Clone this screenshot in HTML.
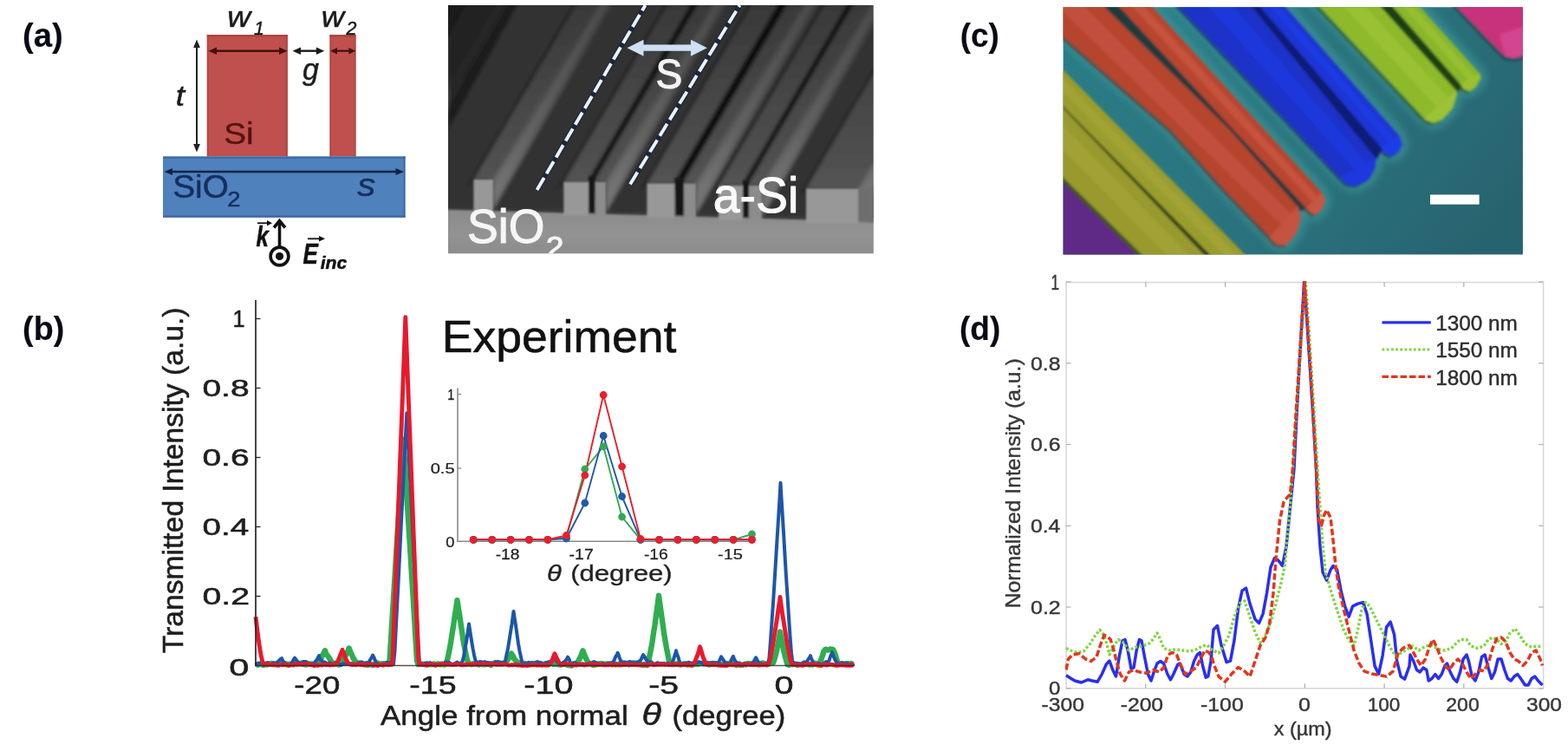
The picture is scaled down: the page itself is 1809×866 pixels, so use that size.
<!DOCTYPE html>
<html lang="en">
<head>
<meta charset="utf-8">
<title>Figure</title>
<style>
html,body{margin:0;padding:0;background:#fff;}
body{width:1809px;height:866px;overflow:hidden;}
svg{display:block;font-family:"Liberation Sans",sans-serif;}
</style>
</head>
<body>
<svg width="1809" height="866" viewBox="0 0 1809 866">
<rect x="0" y="0" width="1809" height="866" fill="#ffffff"/>
<g id="labels">
<text transform="translate(26.09,54.30) scale(1.0058,1.0000)" font-size="38.00" font-weight="bold" fill="#0a0a14" stroke="#0a0a14" stroke-width="0.15" stroke-linejoin="round">(a)</text>
<text transform="translate(26.11,392.00) scale(0.9924,1.0000)" font-size="38.00" font-weight="bold" fill="#0a0a14" stroke="#0a0a14" stroke-width="0.15" stroke-linejoin="round">(b)</text>
<text transform="translate(1107.66,54.30) scale(0.9708,1.0000)" font-size="38.00" font-weight="bold" fill="#0a0a14" stroke="#0a0a14" stroke-width="0.15" stroke-linejoin="round">(c)</text>
<text transform="translate(1106.95,392.00) scale(0.9746,1.0000)" font-size="38.00" font-weight="bold" fill="#0a0a14" stroke="#0a0a14" stroke-width="0.15" stroke-linejoin="round">(d)</text>
</g>
<g id="schematic">
<text transform="translate(262.14,30.50) scale(1.1279,1.0000)" font-size="33.02" font-style="italic" fill="#1c1c1c" stroke="#1c1c1c" stroke-width="0.5" stroke-linejoin="round">w</text>
<text transform="translate(370.67,30.50) scale(1.1070,1.0000)" font-size="33.02" font-style="italic" fill="#1c1c1c" stroke="#1c1c1c" stroke-width="0.5" stroke-linejoin="round">w</text>
<rect x="238.8" y="40.0" width="93.0" height="140.5" fill="#c0504d"/>
<rect x="238.8" y="40.0" width="93.0" height="3.0" fill="#a8433f" opacity="0.7"/>
<rect x="238.8" y="40.0" width="2.0" height="140.5" fill="#b04743" opacity="0.8"/>
<rect x="329.8" y="40.0" width="2.0" height="140.5" fill="#a8433f" opacity="0.8"/>
<rect x="380.5" y="40.0" width="30.0" height="140.5" fill="#c0504d"/>
<rect x="380.5" y="40.0" width="30.0" height="3.0" fill="#a8433f" opacity="0.7"/>
<rect x="380.5" y="40.0" width="1.8" height="140.5" fill="#a8433f" opacity="0.8"/>
<rect x="408.7" y="40.0" width="1.8" height="140.5" fill="#a8433f" opacity="0.8"/>
<rect x="188.0" y="180.5" width="279.5" height="70.3" fill="#4f81bd"/>
<rect x="188.0" y="180.5" width="279.5" height="2.5" fill="#3d6aa3" opacity="0.9"/>
<rect x="188.0" y="248.3" width="279.5" height="2.5" fill="#41689c" opacity="0.9"/>
<rect x="465.3" y="180.5" width="2.2" height="70.3" fill="#41689c" opacity="0.9"/>
<text transform="translate(292.97,39.80) scale(0.9488,1.0000)" font-size="22.50" font-style="italic" fill="#1c1c1c" stroke="#1c1c1c" stroke-width="0.5" stroke-linejoin="round">1</text>
<text transform="translate(399.41,39.80) scale(0.9541,1.0000)" font-size="22.50" font-style="italic" fill="#1c1c1c" stroke="#1c1c1c" stroke-width="0.5" stroke-linejoin="round">2</text>
<line x1="246.2" y1="58.7" x2="325.8" y2="58.7" stroke="#43100e" stroke-width="2.4"/><polygon points="240.5,58.7 250.0,54.5 250.0,62.9" fill="#43100e"/><polygon points="331.5,58.7 322.0,54.5 322.0,62.9" fill="#43100e"/>
<line x1="343.2" y1="58.7" x2="368.6" y2="58.7" stroke="#1a1a1a" stroke-width="2.4"/><polygon points="337.5,58.7 347.0,54.5 347.0,62.9" fill="#1a1a1a"/><polygon points="374.3,58.7 364.8,54.5 364.8,62.9" fill="#1a1a1a"/>
<line x1="385.8" y1="58.7" x2="405.5" y2="58.7" stroke="#43100e" stroke-width="2.2"/><polygon points="381.0,58.7 389.0,54.9 389.0,62.5" fill="#43100e"/><polygon points="410.3,58.7 402.3,54.9 402.3,62.5" fill="#43100e"/>
<line x1="227.0" y1="51.2" x2="227.0" y2="169.8" stroke="#222" stroke-width="2.0"/><polygon points="227.0,45.5 223.1,55.0 230.9,55.0" fill="#222"/><polygon points="227.0,175.5 223.1,166.0 230.9,166.0" fill="#222"/>
<line x1="195.2" y1="198.0" x2="460.3" y2="198.0" stroke="#0f2348" stroke-width="2.3"/><polygon points="189.5,198.0 199.0,194.0 199.0,202.0" fill="#0f2348"/><polygon points="466.0,198.0 456.5,194.0 456.5,202.0" fill="#0f2348"/>
<text transform="translate(349.00,92.30) scale(0.9725,1.0000)" font-size="34.91" font-style="italic" fill="#1c1c1c" stroke="#1c1c1c" stroke-width="0.5" stroke-linejoin="round">g</text>
<text transform="translate(202.83,122.00) scale(1.0893,1.0000)" font-size="34.00" font-style="italic" fill="#1c1c1c" stroke="#1c1c1c" stroke-width="0.5" stroke-linejoin="round">t</text>
<text transform="translate(258.26,166.00) scale(1.0839,1.0000)" font-size="35.71" fill="#551512" stroke="#551512" stroke-width="0.5" stroke-linejoin="round">Si</text>
<text transform="translate(199.26,228.00) scale(1.0632,1.0000)" font-size="36.43" fill="#14305f" stroke="#14305f" stroke-width="0.5" stroke-linejoin="round">SiO</text>
<text transform="translate(262.13,237.50) scale(1.1945,1.0000)" font-size="23.00" fill="#14305f" stroke="#14305f" stroke-width="0.5" stroke-linejoin="round">2</text>
<text transform="translate(412.29,226.00) scale(1.1158,1.0000)" font-size="37.74" font-style="italic" fill="#14305f" stroke="#14305f" stroke-width="0.5" stroke-linejoin="round">s</text>
<text transform="translate(295.61,284.00) scale(0.7837,1.0000)" font-size="33.00" font-weight="bold" font-style="italic" fill="#111" stroke="#111" stroke-width="0.5" stroke-linejoin="round">k</text>
<line x1="297.0" y1="257.3" x2="311.0" y2="257.3" stroke="#111" stroke-width="1.8"/>
<polygon points="314.0,257.3 308.0,254.0 308.0,260.6" fill="#111"/>
<line x1="322.5" y1="256.0" x2="322.5" y2="285.0" stroke="#111" stroke-width="3.6"/>
<polyline points="316,262.5 322.5,254.5 329,262.5" fill="none" stroke="#111" stroke-width="3.6" stroke-linejoin="miter"/>
<circle cx="322.5" cy="295.5" r="10.4" fill="#fff" stroke="#111" stroke-width="3.6"/>
<circle cx="322.5" cy="295.5" r="4.6" fill="#111"/>
<text transform="translate(349.48,304.00) scale(0.7949,1.0000)" font-size="32.86" font-weight="bold" font-style="italic" fill="#111" stroke="#111" stroke-width="0.5" stroke-linejoin="round">E</text>
<line x1="355.0" y1="275.3" x2="370.0" y2="275.3" stroke="#111" stroke-width="1.8"/>
<polygon points="375.0,275.3 368.0,272.0 368.0,278.6" fill="#111"/>
<text transform="translate(369.68,310.00) scale(1.0215,1.0000)" font-size="20.75" font-weight="bold" font-style="italic" fill="#111" stroke="#111" stroke-width="0.5" stroke-linejoin="round">inc</text>
</g>
<defs>
<clipPath id="semclip"><rect x="517" y="6" width="490.6" height="286.2"/></clipPath>
<filter id="semblur" x="-5%" y="-5%" width="110%" height="110%"><feGaussianBlur stdDeviation="2.0"/></filter>
<filter id="semblur2" x="-5%" y="-5%" width="110%" height="110%"><feGaussianBlur stdDeviation="1.3"/></filter>
<linearGradient id="sembase" gradientUnits="userSpaceOnUse" x1="517" y1="6" x2="687" y2="296"><stop offset="0" stop-color="#1c1c1c"/><stop offset="0.35" stop-color="#303030"/><stop offset="1" stop-color="#3e3e3e"/></linearGradient>
<linearGradient id="semwall" gradientUnits="userSpaceOnUse" x1="0" y1="250" x2="0" y2="0"><stop offset="0" stop-color="#787878"/><stop offset="0.4" stop-color="#585858"/><stop offset="0.75" stop-color="#444444"/><stop offset="1" stop-color="#3a3a3a"/></linearGradient>
<linearGradient id="semtop" gradientUnits="userSpaceOnUse" x1="0" y1="250" x2="0" y2="0"><stop offset="0" stop-color="#585858"/><stop offset="0.5" stop-color="#484848"/><stop offset="1" stop-color="#383838"/></linearGradient>
<linearGradient id="semsub" gradientUnits="userSpaceOnUse" x1="0" y1="240" x2="0" y2="292"><stop offset="0" stop-color="#8a8a8a"/><stop offset="0.6" stop-color="#939393"/><stop offset="1" stop-color="#8c8c8c"/></linearGradient>
</defs>
<g id="sem" clip-path="url(#semclip)">
<rect x="517.0" y="6.0" width="490.6" height="286.2" fill="url(#sembase)"/>
<g filter="url(#semblur)">
<polygon points="451.0,238.0 590.2,0.0 700.2,0.0 561.0,238.0" fill="#333333"/>
<polygon points="569.0,241.0 710.0,0.0 820.0,0.0 679.0,241.0" fill="#333333"/>
<polygon points="699.0,244.4 842.0,0.0 952.0,0.0 809.0,244.4" fill="#333333"/>
<polygon points="803.0,247.0 947.5,0.0 1057.5,0.0 913.0,247.0" fill="#333333"/>
<polygon points="879.0,250.0 1025.2,0.0 1135.2,0.0 989.0,250.0" fill="#333333"/>
<polygon points="990.0,254.0 1138.6,0.0 1248.6,0.0 1100.0,254.0" fill="#333333"/>
<polygon points="451.0,204.0 451.0,238.0 590.2,0.0 570.3,0.0" fill="url(#semwall)"/>
<polygon points="454.0,208.0 454.0,224.0 585.0,0.0 575.7,0.0" fill="#8a8a8a" opacity="0.22"/>
<polygon points="421.0,204.0 451.0,204.0 570.3,0.0 540.3,0.0" fill="url(#semtop)"/>
<polygon points="412.0,214.0 421.0,204.0 540.3,0.0 537.2,0.0" fill="#151515" opacity="0.8"/>
<polygon points="569.0,207.0 569.0,241.0 710.0,0.0 690.1,0.0" fill="url(#semwall)"/>
<polygon points="572.0,211.0 572.0,227.0 704.8,0.0 695.4,0.0" fill="#8a8a8a" opacity="0.22"/>
<polygon points="546.4,207.0 569.0,207.0 690.1,0.0 667.5,0.0" fill="url(#semtop)"/>
<polygon points="537.4,217.0 546.4,207.0 667.5,0.0 664.3,0.0" fill="#151515" opacity="0.8"/>
<polygon points="699.0,209.8 699.0,244.4 842.0,0.0 821.7,0.0" fill="url(#semwall)"/>
<polygon points="702.0,213.8 702.0,230.4 836.8,0.0 827.1,0.0" fill="#8a8a8a" opacity="0.22"/>
<polygon points="650.3,209.8 699.0,209.8 821.7,0.0 773.0,0.0" fill="url(#semtop)"/>
<polygon points="679.0,206.8 686.7,206.8 807.7,0.0 800.0,0.0" fill="#0c0c0c"/>
<polygon points="641.3,219.8 650.3,209.8 773.0,0.0 769.9,0.0" fill="#151515" opacity="0.8"/>
<polygon points="803.0,211.5 803.0,247.0 947.5,0.0 926.7,0.0" fill="url(#semwall)"/>
<polygon points="806.0,215.5 806.0,233.0 942.3,0.0 932.1,0.0" fill="#8a8a8a" opacity="0.22"/>
<polygon points="746.4,211.5 803.0,211.5 926.7,0.0 870.1,0.0" fill="url(#semtop)"/>
<polygon points="778.5,208.5 789.0,208.5 911.0,0.0 900.5,0.0" fill="#0c0c0c"/>
<polygon points="737.4,221.5 746.4,211.5 870.1,0.0 867.0,0.0" fill="#151515" opacity="0.8"/>
<polygon points="879.0,214.0 879.0,250.0 1025.2,0.0 1004.2,0.0" fill="url(#semwall)"/>
<polygon points="882.0,218.0 882.0,236.0 1020.1,0.0 1009.5,0.0" fill="#8a8a8a" opacity="0.22"/>
<polygon points="829.0,214.0 879.0,214.0 1004.2,0.0 954.2,0.0" fill="url(#semtop)"/>
<polygon points="857.0,211.0 864.0,211.0 987.4,0.0 980.4,0.0" fill="#0c0c0c"/>
<polygon points="820.0,224.0 829.0,214.0 954.2,0.0 951.0,0.0" fill="#151515" opacity="0.8"/>
<polygon points="990.0,217.5 990.0,254.0 1138.6,0.0 1117.2,0.0" fill="url(#semwall)"/>
<polygon points="993.0,221.5 993.0,240.0 1133.4,0.0 1122.6,0.0" fill="#8a8a8a" opacity="0.22"/>
<polygon points="930.0,217.5 990.0,217.5 1117.2,0.0 1057.2,0.0" fill="url(#semtop)"/>
<polygon points="921.0,227.5 930.0,217.5 1057.2,0.0 1054.1,0.0" fill="#151515" opacity="0.8"/>
<polygon points="517.0,0.0 600.0,0.0 517.0,150.0" fill="#181818" opacity="0.75"/>
</g>
<g filter="url(#semblur2)">
<polygon points="512.0,241.5 1012.6,255.8 1012.6,297.2 512.0,297.2" fill="url(#semsub)"/>
<polygon points="546.4,207.0 569.0,207.0 569.0,245.0 546.4,245.0" fill="#989898"/>
<polygon points="650.3,209.8 679.0,209.8 679.0,248.4 650.3,248.4" fill="#989898"/>
<polygon points="679.0,203.8 686.7,203.8 685.7,245.4 680.0,245.4" fill="#141414"/>
<polygon points="686.7,209.8 699.0,209.8 699.0,248.4 686.7,248.4" fill="#8c8c8c"/>
<polygon points="746.4,211.5 778.5,211.5 778.5,251.0 746.4,251.0" fill="#989898"/>
<polygon points="778.5,205.5 789.0,205.5 788.0,248.0 779.5,248.0" fill="#141414"/>
<polygon points="789.0,211.5 803.0,211.5 803.0,251.0 789.0,251.0" fill="#8c8c8c"/>
<polygon points="829.0,214.0 857.0,214.0 857.0,254.0 829.0,254.0" fill="#989898"/>
<polygon points="857.0,208.0 864.0,208.0 863.0,251.0 858.0,251.0" fill="#141414"/>
<polygon points="864.0,214.0 879.0,214.0 879.0,254.0 864.0,254.0" fill="#8c8c8c"/>
<polygon points="930.0,217.5 990.0,217.5 990.0,258.0 930.0,258.0" fill="#989898"/>
<polygon points="990.0,217.5 1010.0,214.0 1010.0,257.0 990.0,256.0" fill="#6e6e6e"/>
</g>
<line x1="619.5" y1="219.0" x2="744.5" y2="6.0" stroke="#14233c" stroke-width="6.4" stroke-linecap="butt" opacity="0.7"/>
<line x1="619.5" y1="219.0" x2="744.5" y2="6.0" stroke="#eaf2fb" stroke-width="3.9" stroke-dasharray="16.3 5.5"/>
<line x1="727.0" y1="212.5" x2="853.5" y2="6.0" stroke="#14233c" stroke-width="6.4" stroke-linecap="butt" opacity="0.7"/>
<line x1="727.0" y1="212.5" x2="853.5" y2="6.0" stroke="#eaf2fb" stroke-width="3.9" stroke-dasharray="16.3 5.5"/>
<line x1="736.0" y1="55.2" x2="804.0" y2="55.2" stroke="#cfe0f4" stroke-width="7.2"/>
<polygon points="723.5,55.2 742.5,45.7 742.5,64.7" fill="#cfe0f4"/>
<polygon points="815.8,55.2 797.0,45.7 797.0,64.7" fill="#cfe0f4"/>
<text transform="translate(756.43,102.30) scale(0.9630,1.0000)" font-size="47.86" fill="#f4f4f4" stroke="#f4f4f4" stroke-width="1.1" stroke-linejoin="round">S</text>
<text transform="translate(539.09,280.00) scale(0.9630,1.0000)" font-size="55.71" fill="#f6f6f6" stroke="#f6f6f6" stroke-width="1.1" stroke-linejoin="round">SiO</text>
<text transform="translate(629.63,297.00) scale(1.0379,1.0000)" font-size="36.00" fill="#f6f6f6" stroke="#f6f6f6" stroke-width="1.1" stroke-linejoin="round">2</text>
<text transform="translate(822.78,245.30) scale(0.9693,1.0000)" font-size="57.14" fill="#fafafa" stroke="#fafafa" stroke-width="1.1" stroke-linejoin="round">a-Si</text>
</g>
<defs>
<clipPath id="cclip"><rect x="1226.6" y="8.3" width="530.3000000000002" height="285.09999999999997"/></clipPath>
<filter id="cblur" x="-5%" y="-5%" width="110%" height="110%"><feGaussianBlur stdDeviation="1.8"/></filter>
<filter id="cblur2" x="-10%" y="-10%" width="120%" height="120%"><feGaussianBlur stdDeviation="5"/></filter>
<linearGradient id="cbg" gradientUnits="userSpaceOnUse" x1="1300" y1="0" x2="1700" y2="300"><stop offset="0" stop-color="#2a7c86"/><stop offset="0.6" stop-color="#2a717c"/><stop offset="1" stop-color="#27636f"/></linearGradient>
</defs>
<g id="colorsem" clip-path="url(#cclip)">
<rect x="1224.6" y="6.3" width="534.3" height="289.1" fill="url(#cbg)"/>
<g filter="url(#cblur2)" opacity="0.55">
<polygon points="1266.0,0.0 1419.0,150.0 1497.0,238.0 1501.0,251.0 1496.0,268.0 1484.0,283.0 1473.0,282.0 1465.0,273.0 1413.0,219.0 1351.0,150.0 1178.0,0.0" fill="#44a0a0" stroke="#44a0a0" stroke-width="14" stroke-linejoin="round"/>
<polygon points="1322.5,0.0 1525.0,222.0 1529.0,232.0 1524.0,243.0 1516.0,248.0 1507.0,240.0 1284.0,0.0" fill="#44a0a0" stroke="#44a0a0" stroke-width="14" stroke-linejoin="round"/>
<polygon points="1438.0,0.0 1587.0,182.0 1587.0,193.0 1580.0,206.0 1566.0,214.0 1554.0,212.0 1546.0,204.0 1353.0,0.0" fill="#44a0a0" stroke="#44a0a0" stroke-width="14" stroke-linejoin="round"/>
<polygon points="1476.0,0.0 1614.0,156.0 1618.0,166.0 1614.0,175.0 1606.0,180.0 1599.0,177.0 1593.0,170.0 1447.0,0.0" fill="#44a0a0" stroke="#44a0a0" stroke-width="14" stroke-linejoin="round"/>
<polygon points="1586.0,0.0 1679.6,104.0 1681.0,108.0 1676.0,125.0 1664.0,138.0 1654.0,142.0 1646.0,139.0 1643.2,136.8 1514.8,0.0" fill="#44a0a0" stroke="#44a0a0" stroke-width="14" stroke-linejoin="round"/>
<polygon points="1631.0,0.0 1707.3,84.9 1708.5,90.0 1703.0,100.0 1696.0,105.5 1689.0,103.0 1684.8,97.0 1600.0,0.0" fill="#44a0a0" stroke="#44a0a0" stroke-width="14" stroke-linejoin="round"/>
</g>
<g filter="url(#cblur)">
<polygon points="1220.0,192.0 1330.0,300.0 1220.0,300.0" fill="#3a4a1a"/>
<polygon points="1220.0,204.0 1318.0,300.0 1220.0,300.0" fill="#5e2a86"/>
<polygon points="1668.0,0.0 1760.0,0.0 1760.0,68.0 1746.0,71.0 1735.0,69.5 1728.0,63.0" fill="#23505a"/>
<polygon points="1673.0,0.0 1760.0,0.0 1760.0,64.0 1746.0,67.0 1737.0,65.0 1731.0,60.0" fill="#c8327c"/>
<polygon points="1730.0,40.0 1760.0,30.0 1760.0,64.0 1746.0,67.0 1737.0,65.0" fill="#d84c98" opacity="0.7"/>
<polygon points="1217.5,120.5 1392.5,302.5 1321.5,302.5 1217.5,201.0" fill="#4a5a18" opacity="0.6"/>
<polygon points="1217.5,76.5 1440.3,302.5 1399.5,302.5 1217.5,118.5" fill="#4a5a18" opacity="0.6"/>
<polygon points="1263.5,2.5 1416.5,152.5 1494.5,240.5 1498.5,253.5 1493.5,270.5 1481.5,285.5 1470.5,284.5 1462.5,275.5 1410.5,221.5 1348.5,152.5 1175.5,2.5" fill="#6a2a22" opacity="0.6"/>
<polygon points="1320.0,2.5 1522.5,224.5 1526.5,234.5 1521.5,245.5 1513.5,250.5 1504.5,242.5 1281.5,2.5" fill="#6a2a22" opacity="0.6"/>
<polygon points="1435.5,2.5 1584.5,184.5 1584.5,195.5 1577.5,208.5 1563.5,216.5 1551.5,214.5 1543.5,206.5 1350.5,2.5" fill="#101a70" opacity="0.6"/>
<polygon points="1473.5,2.5 1611.5,158.5 1615.5,168.5 1611.5,177.5 1603.5,182.5 1596.5,179.5 1590.5,172.5 1444.5,2.5" fill="#101a70" opacity="0.6"/>
<polygon points="1583.5,2.5 1677.1,106.5 1678.5,110.5 1673.5,127.5 1661.5,140.5 1651.5,144.5 1643.5,141.5 1640.7,139.3 1512.3,2.5" fill="#2c4a14" opacity="0.6"/>
<polygon points="1628.5,2.5 1704.8,87.4 1706.0,92.5 1700.5,102.5 1693.5,108.0 1686.5,105.5 1682.3,99.5 1597.5,2.5" fill="#2c4a14" opacity="0.6"/>
<polygon points="1220.0,110.0 1220.0,120.0 1397.0,302.0 1407.0,302.0" fill="#2a3a14"/>
<polygon points="1262.0,0.0 1288.0,0.0 1428.0,150.0 1510.0,240.0 1497.0,244.0 1415.0,150.0" fill="#1e3a3c"/>
<polygon points="1434.0,0.0 1450.0,0.0 1595.0,172.0 1586.0,187.0" fill="#0e1a74"/>
<polygon points="1582.0,0.0 1604.0,0.0 1687.0,99.0 1680.0,108.0" fill="#1c4014"/>
<polygon points="1220.0,118.0 1395.0,300.0 1324.0,300.0 1220.0,198.5" fill="#989a2e"/>
<polygon points="1220.0,138.1 1377.2,300.0 1352.4,300.0 1220.0,166.3" fill="#acaa3c" opacity="0.45"/>
<polygon points="1220.0,74.0 1442.8,300.0 1402.0,300.0 1220.0,116.0" fill="#9a9c2e"/>
<polygon points="1220.0,84.5 1432.6,300.0 1418.3,300.0 1220.0,99.2" fill="#b0ae40" opacity="0.45"/>
<polygon points="1266.0,0.0 1419.0,150.0 1497.0,238.0 1501.0,251.0 1496.0,268.0 1484.0,283.0 1473.0,282.0 1465.0,273.0 1413.0,219.0 1351.0,150.0 1178.0,0.0" fill="#b6442f"/>
<polygon points="1244.0,0.0 1489.0,246.8 1477.8,259.0 1213.2,0.0" fill="#d06050" opacity="0.45"/>
<polygon points="1497.6,237.3 1501.0,251.0 1496.0,268.0 1484.0,283.0 1473.0,282.0 1464.4,273.7 1468.2,269.5 1493.8,241.5" fill="#d06050" opacity="0.55"/>
<polygon points="1322.5,0.0 1525.0,222.0 1529.0,232.0 1524.0,243.0 1516.0,248.0 1507.0,240.0 1284.0,0.0" fill="#b8452f"/>
<polygon points="1312.9,0.0 1520.5,226.5 1514.2,232.8 1299.4,0.0" fill="#d46452" opacity="0.45"/>
<polygon points="1525.4,221.6 1529.0,232.0 1524.0,243.0 1516.0,248.0 1506.6,240.4 1508.8,238.2 1523.2,223.8" fill="#d46452" opacity="0.55"/>
<polygon points="1438.0,0.0 1587.0,182.0 1587.0,193.0 1580.0,206.0 1566.0,214.0 1554.0,212.0 1546.0,204.0 1353.0,0.0" fill="#1a30c8"/>
<polygon points="1416.8,0.0 1576.8,187.5 1562.4,195.2 1387.0,0.0" fill="#2040f0" opacity="0.45"/>
<polygon points="1587.8,181.6 1587.0,193.0 1580.0,206.0 1566.0,214.0 1554.0,212.0 1545.2,204.4 1550.1,201.8 1582.9,184.2" fill="#2040f0" opacity="0.55"/>
<polygon points="1476.0,0.0 1614.0,156.0 1618.0,166.0 1614.0,175.0 1606.0,180.0 1599.0,177.0 1593.0,170.0 1447.0,0.0" fill="#1c34d4"/>
<polygon points="1468.8,0.0 1608.8,159.5 1601.4,164.4 1458.6,0.0" fill="#2244f4" opacity="0.45"/>
<polygon points="1614.4,155.7 1618.0,166.0 1614.0,175.0 1606.0,180.0 1599.0,177.0 1592.6,170.3 1595.1,168.6 1611.9,157.4" fill="#2244f4" opacity="0.55"/>
<polygon points="1586.0,0.0 1679.6,104.0 1681.0,108.0 1676.0,125.0 1664.0,138.0 1654.0,142.0 1646.0,139.0 1643.2,136.8 1514.8,0.0" fill="#8db92c"/>
<polygon points="1568.2,0.0 1670.5,112.2 1657.8,123.7 1543.3,0.0" fill="#a8cc3c" opacity="0.45"/>
<polygon points="1680.3,103.3 1681.0,108.0 1676.0,125.0 1664.0,138.0 1654.0,142.0 1646.0,139.0 1642.5,137.5 1646.8,133.5 1676.0,107.3" fill="#a8cc3c" opacity="0.55"/>
<polygon points="1631.0,0.0 1707.3,84.9 1708.5,90.0 1703.0,100.0 1696.0,105.5 1689.0,103.0 1684.8,97.0 1600.0,0.0" fill="#8ab62a"/>
<polygon points="1623.2,0.0 1701.7,87.9 1693.8,92.2 1612.4,0.0" fill="#a6ca3a" opacity="0.45"/>
<polygon points="1707.8,84.7 1708.5,90.0 1703.0,100.0 1696.0,105.5 1689.0,103.0 1684.3,97.2 1687.0,95.8 1705.0,86.1" fill="#a6ca3a" opacity="0.55"/>
</g>
<rect x="1650.0" y="224.5" width="56.6" height="11.2" fill="#ffffff"/>
</g>
<g id="chartb">
<text transform="translate(268.60,377.10) scale(0.9316,1.0000)" font-size="27.14" fill="#1e1e1e" stroke="#1e1e1e" stroke-width="0.55" stroke-linejoin="round">1</text>
<text transform="translate(233.44,457.10) scale(1.4343,1.0000)" font-size="27.14" fill="#1e1e1e" stroke="#1e1e1e" stroke-width="0.55" stroke-linejoin="round">0.8</text>
<text transform="translate(233.44,537.10) scale(1.4343,1.0000)" font-size="27.14" fill="#1e1e1e" stroke="#1e1e1e" stroke-width="0.55" stroke-linejoin="round">0.6</text>
<text transform="translate(233.45,617.10) scale(1.4234,1.0000)" font-size="27.14" fill="#1e1e1e" stroke="#1e1e1e" stroke-width="0.55" stroke-linejoin="round">0.4</text>
<text transform="translate(233.43,697.10) scale(1.4453,1.0000)" font-size="27.14" fill="#1e1e1e" stroke="#1e1e1e" stroke-width="0.55" stroke-linejoin="round">0.2</text>
<text transform="translate(264.33,779.10) scale(1.5351,1.0000)" font-size="27.14" fill="#1e1e1e" stroke="#1e1e1e" stroke-width="0.55" stroke-linejoin="round">0</text>
<text transform="translate(339.35,800.00) scale(1.2821,1.0000)" font-size="28.57" fill="#1e1e1e" stroke="#1e1e1e" stroke-width="0.55" stroke-linejoin="round">-20</text>
<text transform="translate(472.31,800.00) scale(1.3125,1.0000)" font-size="28.57" fill="#1e1e1e" stroke="#1e1e1e" stroke-width="0.55" stroke-linejoin="round">-15</text>
<text transform="translate(604.22,800.00) scale(1.3846,1.0000)" font-size="28.57" fill="#1e1e1e" stroke="#1e1e1e" stroke-width="0.55" stroke-linejoin="round">-10</text>
<text transform="translate(748.24,800.00) scale(1.3696,1.0000)" font-size="28.57" fill="#1e1e1e" stroke="#1e1e1e" stroke-width="0.55" stroke-linejoin="round">-5</text>
<text transform="translate(893.42,800.00) scale(1.3854,1.0000)" font-size="28.57" fill="#1e1e1e" stroke="#1e1e1e" stroke-width="0.55" stroke-linejoin="round">0</text>
<text transform="translate(439.00,836.00) scale(1.0882,1.0000)" font-size="32.14" fill="#1e1e1e" stroke="#1e1e1e" stroke-width="0.55" stroke-linejoin="round">Angle from normal</text>
<text transform="translate(740.44,836.00) scale(1.1782,1.0000)" font-size="35.00" font-style="italic" fill="#1e1e1e" stroke="#1e1e1e" stroke-width="0.55" stroke-linejoin="round">θ</text>
<text transform="translate(775.42,836.00) scale(1.0768,1.0000)" font-size="32.14" fill="#1e1e1e" stroke="#1e1e1e" stroke-width="0.55" stroke-linejoin="round">(degree)</text>
<text transform="translate(211.00,753.17) rotate(-90) scale(1.0849,1.0800)" font-size="31.00" fill="#1e1e1e" stroke="#1e1e1e" stroke-width="0.55" stroke-linejoin="round">Transmitted Intensity (a.u.)</text>
<text transform="translate(509.72,406.00) scale(1.0407,1.0000)" font-size="51.43" fill="#111" stroke="#111" stroke-width="0.55" stroke-linejoin="round">Experiment</text>
<line x1="528.0" y1="447.5" x2="528.0" y2="625.0" stroke="#8a8a8a" stroke-width="1.6"/>
<line x1="527.2" y1="624.3" x2="870.0" y2="624.3" stroke="#8a8a8a" stroke-width="1.6"/>
<line x1="528.0" y1="454.5" x2="532.0" y2="454.5" stroke="#8a8a8a" stroke-width="1.3"/>
<line x1="528.0" y1="540.0" x2="532.0" y2="540.0" stroke="#8a8a8a" stroke-width="1.3"/>
<text transform="translate(516.21,461.00) scale(0.8972,1.0000)" font-size="16.14" fill="#222" stroke="#222" stroke-width="0.25" stroke-linejoin="round">1</text>
<text transform="translate(496.70,546.20) scale(1.2437,1.0000)" font-size="16.14" fill="#222" stroke="#222" stroke-width="0.25" stroke-linejoin="round">0.5</text>
<text transform="translate(514.27,631.00) scale(1.1357,1.0000)" font-size="16.14" fill="#222" stroke="#222" stroke-width="0.25" stroke-linejoin="round">0</text>
<text transform="translate(571.63,645.00) scale(1.1281,1.0000)" font-size="17.14" fill="#222" stroke="#222" stroke-width="0.25" stroke-linejoin="round">-18</text>
<text transform="translate(656.62,645.00) scale(1.1364,1.0000)" font-size="17.14" fill="#222" stroke="#222" stroke-width="0.25" stroke-linejoin="round">-17</text>
<text transform="translate(742.93,645.00) scale(1.1238,1.0000)" font-size="17.14" fill="#222" stroke="#222" stroke-width="0.25" stroke-linejoin="round">-16</text>
<text transform="translate(828.10,645.00) scale(1.1667,1.0000)" font-size="17.14" fill="#222" stroke="#222" stroke-width="0.25" stroke-linejoin="round">-15</text>
<text transform="translate(630.95,670.00) scale(1.1895,1.0000)" font-size="26.00" font-style="italic" fill="#222" stroke="#222" stroke-width="0.3" stroke-linejoin="round">θ</text>
<text transform="translate(658.13,670.00) scale(1.2244,1.0000)" font-size="25.43" fill="#222" stroke="#222" stroke-width="0.3" stroke-linejoin="round">(degree)</text>
<polyline points="546.2,622.3 567.7,622.3 589.1,622.3 610.5,622.3 631.9,622.3 653.4,620.0 674.8,541.0 696.2,515.0 717.6,596.0 739.0,622.3 760.5,622.3 781.9,622.3 803.3,622.3 824.7,622.3 846.1,622.3 867.5,616.0" fill="none" stroke="#35a853" stroke-width="1.9" stroke-linejoin="round"/>
<polyline points="546.2,622.3 567.7,622.3 589.1,622.3 610.5,622.3 631.9,622.3 653.4,621.0 674.8,580.0 696.2,502.5 717.6,572.5 739.0,622.3 760.5,622.3 781.9,622.3 803.3,622.3 824.7,622.3 846.1,622.3 867.5,622.3" fill="none" stroke="#1f5aa8" stroke-width="1.9" stroke-linejoin="round"/>
<polyline points="546.2,622.3 567.7,622.3 589.1,622.3 610.5,622.3 631.9,622.3 653.4,617.5 674.8,548.0 696.2,455.5 717.6,538.0 739.0,621.5 760.5,622.3 781.9,622.3 803.3,622.3 824.7,622.3 846.1,622.3 867.5,622.3" fill="none" stroke="#e8202c" stroke-width="1.9" stroke-linejoin="round"/>
<g fill="#35a853"><circle cx="546.2" cy="622.3" r="4.4"/><circle cx="567.7" cy="622.3" r="4.4"/><circle cx="589.1" cy="622.3" r="4.4"/><circle cx="610.5" cy="622.3" r="4.4"/><circle cx="631.9" cy="622.3" r="4.4"/><circle cx="653.4" cy="620.0" r="4.4"/><circle cx="674.8" cy="541.0" r="4.4"/><circle cx="696.2" cy="515.0" r="4.4"/><circle cx="717.6" cy="596.0" r="4.4"/><circle cx="739.0" cy="622.3" r="4.4"/><circle cx="760.5" cy="622.3" r="4.4"/><circle cx="781.9" cy="622.3" r="4.4"/><circle cx="803.3" cy="622.3" r="4.4"/><circle cx="824.7" cy="622.3" r="4.4"/><circle cx="846.1" cy="622.3" r="4.4"/><circle cx="867.5" cy="616.0" r="4.4"/></g>
<g fill="#1f5aa8"><circle cx="546.2" cy="622.3" r="4.4"/><circle cx="567.7" cy="622.3" r="4.4"/><circle cx="589.1" cy="622.3" r="4.4"/><circle cx="610.5" cy="622.3" r="4.4"/><circle cx="631.9" cy="622.3" r="4.4"/><circle cx="653.4" cy="621.0" r="4.4"/><circle cx="674.8" cy="580.0" r="4.4"/><circle cx="696.2" cy="502.5" r="4.4"/><circle cx="717.6" cy="572.5" r="4.4"/><circle cx="739.0" cy="622.3" r="4.4"/><circle cx="760.5" cy="622.3" r="4.4"/><circle cx="781.9" cy="622.3" r="4.4"/><circle cx="803.3" cy="622.3" r="4.4"/><circle cx="824.7" cy="622.3" r="4.4"/><circle cx="846.1" cy="622.3" r="4.4"/><circle cx="867.5" cy="622.3" r="4.4"/></g>
<g fill="#e8202c"><circle cx="546.2" cy="622.3" r="4.4"/><circle cx="567.7" cy="622.3" r="4.4"/><circle cx="589.1" cy="622.3" r="4.4"/><circle cx="610.5" cy="622.3" r="4.4"/><circle cx="631.9" cy="622.3" r="4.4"/><circle cx="653.4" cy="617.5" r="4.4"/><circle cx="674.8" cy="548.0" r="4.4"/><circle cx="696.2" cy="455.5" r="4.4"/><circle cx="717.6" cy="538.0" r="4.4"/><circle cx="739.0" cy="621.5" r="4.4"/><circle cx="760.5" cy="622.3" r="4.4"/><circle cx="781.9" cy="622.3" r="4.4"/><circle cx="803.3" cy="622.3" r="4.4"/><circle cx="824.7" cy="622.3" r="4.4"/><circle cx="846.1" cy="622.3" r="4.4"/><circle cx="867.5" cy="622.3" r="4.4"/></g>
<polyline points="295.0,767.6 296.5,766.8 298.0,766.6 299.5,766.0 301.0,765.7 302.5,766.5 304.0,767.1 305.5,765.9 307.0,766.3 308.5,766.6 310.0,765.3 311.5,765.5 313.0,764.9 314.5,765.3 316.0,765.2 317.5,766.1 319.0,765.7 320.5,765.0 322.0,765.2 323.5,764.9 325.0,764.9 326.5,766.1 328.0,765.4 329.5,765.4 331.0,765.9 332.5,766.7 334.0,765.6 335.5,765.7 337.0,765.3 338.5,764.7 340.0,764.7 341.5,764.3 343.0,765.1 344.5,764.7 346.0,765.2 347.5,764.6 349.0,764.3 350.5,765.6 352.0,766.4 353.5,766.6 355.0,765.4 356.5,765.6 358.0,765.4 359.5,765.9 361.0,765.8 362.5,766.0 364.0,766.2 365.5,765.8 367.0,764.7 368.5,762.0 370.0,759.8 371.5,756.8 373.0,754.0 374.5,750.8 375.0,750.3 376.0,753.4 377.5,755.6 379.0,757.6 380.5,759.8 382.0,762.5 383.5,764.3 385.0,765.6 386.5,765.0 388.0,765.1 389.5,765.8 391.0,766.6 392.5,765.6 394.0,763.0 395.5,761.9 397.0,758.6 398.5,756.1 400.0,753.7 401.5,750.7 402.5,747.6 403.0,748.1 404.5,752.5 406.0,755.2 407.5,759.0 409.0,761.0 410.5,763.7 412.0,764.8 413.5,764.5 415.0,765.0 416.5,764.3 418.0,765.2 419.5,766.2 421.0,765.8 422.5,766.7 424.0,766.9 425.5,766.6 427.0,766.0 428.5,766.5 430.0,767.1 431.5,765.8 433.0,766.1 434.5,765.1 436.0,764.6 437.5,765.3 439.0,765.5 440.5,765.5 442.0,765.3 443.5,765.3 445.0,765.3 446.5,765.3 448.0,764.6 449.5,761.8 451.0,737.8 452.5,713.1 454.0,689.5 455.5,665.4 457.0,639.9 458.5,615.8 460.0,591.5 461.5,568.2 463.0,543.7 464.5,518.9 465.3,506.7 466.0,517.5 467.5,541.4 469.0,566.7 470.5,590.5 472.0,614.8 473.5,638.7 475.0,663.5 476.5,687.4 478.0,711.4 479.5,737.0 481.0,762.0 482.5,766.1 484.0,765.0 485.5,765.8 487.0,765.8 488.5,765.6 490.0,766.0 491.5,766.1 493.0,766.3 494.5,766.3 496.0,765.9 497.5,766.2 499.0,766.2 500.5,765.5 502.0,766.5 503.5,766.0 505.0,765.5 506.5,765.9 508.0,766.4 509.5,765.5 511.0,766.1 512.5,766.5 514.0,766.3 515.5,762.7 517.0,757.0 518.5,749.5 520.0,741.2 521.5,731.4 523.0,722.2 524.5,711.7 526.0,702.4 527.5,692.2 529.0,702.2 530.5,711.6 532.0,721.8 533.5,731.9 535.0,741.4 536.5,749.2 538.0,757.2 539.5,762.6 541.0,765.0 542.5,765.9 544.0,766.2 545.5,765.4 547.0,765.3 548.5,764.9 550.0,765.5 551.5,766.3 553.0,766.5 554.5,765.6 556.0,766.1 557.5,766.2 559.0,766.2 560.5,766.1 562.0,766.1 563.5,765.2 565.0,766.0 566.5,766.9 568.0,765.5 569.5,764.9 571.0,764.3 572.5,765.0 574.0,764.4 575.5,764.1 577.0,765.3 578.5,765.0 580.0,764.6 581.5,764.7 583.0,764.1 584.5,762.7 586.0,760.6 587.5,758.4 589.0,756.1 590.0,753.5 590.5,754.7 592.0,756.6 593.5,760.3 595.0,761.6 596.5,763.6 598.0,764.6 599.5,764.3 601.0,764.1 602.5,764.6 604.0,766.0 605.5,765.4 607.0,766.1 608.5,766.3 610.0,765.8 611.5,765.7 613.0,765.9 614.5,765.0 616.0,765.0 617.5,765.6 619.0,766.1 620.5,765.3 622.0,765.5 623.5,765.0 625.0,765.6 626.5,766.2 628.0,765.9 629.5,765.2 631.0,766.1 632.5,765.4 634.0,764.7 635.5,764.5 637.0,764.4 638.5,765.8 640.0,765.5 641.5,764.9 643.0,766.1 644.5,766.4 646.0,766.5 647.5,766.2 649.0,766.1 650.5,766.0 652.0,765.4 653.5,766.4 655.0,767.0 656.5,767.2 658.0,767.3 659.5,767.5 661.0,765.9 662.5,765.1 664.0,766.1 665.5,764.8 667.0,762.7 668.5,760.0 670.0,756.9 671.5,753.0 672.5,750.4 673.0,751.9 674.5,755.8 676.0,759.1 677.5,762.4 679.0,764.4 680.5,765.6 682.0,765.9 683.5,766.6 685.0,766.9 686.5,766.6 688.0,766.1 689.5,765.4 691.0,765.7 692.5,765.1 694.0,765.1 695.5,765.5 697.0,765.8 698.5,765.8 700.0,765.4 701.5,765.6 703.0,765.3 704.5,765.5 706.0,766.1 707.5,765.9 709.0,765.4 710.5,766.4 712.0,766.2 713.5,766.2 715.0,765.3 716.5,764.6 718.0,765.3 719.5,764.7 721.0,764.5 722.5,765.5 724.0,765.6 725.5,766.4 727.0,765.5 728.5,765.3 730.0,764.7 731.5,764.5 733.0,764.7 734.5,764.6 736.0,764.9 737.5,766.0 739.0,765.7 740.5,766.7 742.0,767.0 743.5,765.9 745.0,766.7 746.5,767.1 748.0,764.1 749.5,756.0 751.0,748.6 752.5,740.5 754.0,729.9 755.5,720.7 757.0,709.3 758.5,698.4 760.0,686.8 761.5,697.4 763.0,708.5 764.5,718.7 766.0,729.9 767.5,738.7 769.0,747.6 770.5,755.2 772.0,763.0 773.5,765.5 775.0,764.7 776.5,766.0 778.0,766.2 779.5,765.9 781.0,765.2 782.5,765.9 784.0,766.4 785.5,766.6 787.0,766.0 788.5,765.4 790.0,765.7 791.5,766.0 793.0,766.1 794.5,766.2 796.0,766.2 797.5,766.8 799.0,766.3 800.5,765.2 802.0,765.6 803.5,765.1 805.0,766.0 806.5,765.5 808.0,765.1 809.5,765.0 811.0,765.3 812.5,765.5 814.0,765.3 815.5,764.7 817.0,765.8 818.5,766.5 820.0,765.7 821.5,764.9 823.0,765.2 824.5,765.5 826.0,765.2 827.5,766.0 829.0,766.3 830.5,766.6 832.0,766.1 833.5,766.3 835.0,766.6 836.5,765.9 838.0,764.9 839.5,765.6 841.0,765.3 842.5,765.6 844.0,765.0 845.5,765.1 847.0,765.8 848.5,766.3 850.0,767.0 851.5,766.5 853.0,766.4 854.5,766.8 856.0,766.6 857.5,766.6 859.0,765.7 860.5,766.4 862.0,765.2 863.5,765.4 865.0,765.3 866.5,765.5 868.0,765.0 869.5,764.6 871.0,765.0 872.5,765.3 874.0,765.0 875.5,764.6 877.0,765.2 878.5,765.0 880.0,764.4 881.5,765.0 883.0,765.8 884.5,766.3 886.0,765.6 887.5,765.3 889.0,764.6 890.5,764.4 892.0,764.3 893.5,760.2 895.0,754.5 896.5,748.2 898.0,740.2 899.5,731.8 900.0,728.6 901.0,734.7 902.5,741.6 904.0,749.3 905.5,756.0 907.0,761.2 908.5,766.3 910.0,766.8 911.5,765.7 913.0,766.1 914.5,766.2 916.0,765.9 917.5,765.5 919.0,766.5 920.5,766.5 922.0,766.3 923.5,766.1 925.0,766.5 926.5,766.0 928.0,765.0 929.5,765.5 931.0,765.5 932.5,766.3 934.0,766.5 935.5,765.9 937.0,766.5 938.5,765.5 940.0,764.8 941.5,765.9 943.0,765.0 944.5,765.5 946.0,765.1 947.5,760.0 949.0,756.0 950.5,750.9 952.0,749.2 953.5,748.8 955.0,749.6 956.5,749.2 958.0,748.5 959.5,748.6 961.0,749.0 962.5,751.6 964.0,756.3 965.5,761.3 967.0,765.5 968.5,765.3 970.0,765.3 971.5,766.1 973.0,765.6 974.5,765.4 976.0,766.1 977.5,765.2 979.0,765.1 980.5,766.1 982.0,765.1 983.5,766.0 985.0,766.2" fill="none" stroke="#2fad50" stroke-width="6.4" stroke-linejoin="round"/>
<polyline points="295.0,766.9 296.5,766.0 298.0,764.5 299.5,764.7 301.0,764.8 302.5,764.6 304.0,765.5 305.5,765.2 307.0,764.8 308.5,764.1 310.0,765.4 311.5,765.7 313.0,766.4 314.5,765.0 316.0,764.5 317.5,765.8 319.0,764.2 320.5,763.0 322.0,761.6 323.5,760.0 325.0,759.1 326.5,762.4 328.0,763.7 329.5,766.1 331.0,766.6 332.5,766.6 334.0,767.1 335.5,766.0 337.0,764.0 338.5,760.8 340.0,758.7 341.5,760.6 343.0,762.7 344.5,764.0 346.0,764.7 347.5,765.3 349.0,763.9 350.5,763.0 352.0,762.9 353.5,763.2 355.0,764.3 356.5,765.3 358.0,765.7 359.5,766.5 361.0,765.1 362.5,765.0 364.0,762.4 365.5,761.1 367.0,757.9 368.0,756.1 368.5,758.7 370.0,761.5 371.5,762.0 373.0,763.9 374.5,763.5 376.0,764.3 377.5,765.7 379.0,765.0 380.5,764.3 382.0,765.1 383.5,766.1 385.0,766.0 386.5,764.4 388.0,763.9 389.5,765.3 391.0,765.8 392.5,766.5 394.0,767.0 395.5,765.4 397.0,766.0 398.5,765.4 400.0,765.3 401.5,766.0 403.0,764.9 404.5,765.9 406.0,765.1 407.5,766.0 409.0,765.8 410.5,766.2 412.0,766.2 413.5,764.5 415.0,763.9 416.5,764.8 418.0,763.8 419.5,765.0 421.0,765.2 422.5,764.2 424.0,764.1 425.5,764.9 427.0,760.8 428.5,758.7 430.0,755.6 431.5,758.2 433.0,762.0 434.5,765.0 436.0,766.4 437.5,766.9 439.0,765.9 440.5,766.1 442.0,765.4 443.5,765.5 445.0,765.4 446.5,764.0 448.0,764.4 449.5,764.4 451.0,763.7 452.5,765.0 454.0,765.8 455.5,750.5 457.0,720.1 458.5,691.4 460.0,662.4 461.5,631.7 463.0,600.8 464.5,572.3 466.0,541.3 467.5,511.0 469.0,481.6 469.3,476.3 470.5,501.4 472.0,532.1 473.5,560.1 475.0,590.6 476.5,619.7 478.0,650.2 479.5,679.0 481.0,708.7 482.5,739.3 484.0,765.8 485.5,764.9 487.0,766.0 488.5,766.3 490.0,765.6 491.5,764.4 493.0,764.3 494.5,765.1 496.0,764.0 497.5,765.1 499.0,766.3 500.5,766.3 502.0,765.9 503.5,766.6 505.0,766.8 506.5,766.3 508.0,765.6 509.5,766.3 511.0,766.1 512.5,764.6 514.0,763.5 515.5,763.7 517.0,763.7 518.5,763.9 520.0,765.2 521.5,766.3 523.0,767.0 524.5,765.1 526.0,764.5 527.5,763.5 529.0,765.3 530.5,764.8 532.0,764.9 533.5,762.9 535.0,757.1 536.5,747.7 538.0,740.4 539.5,730.4 541.0,719.6 542.5,729.0 544.0,738.6 545.5,747.6 547.0,755.4 548.5,761.5 550.0,764.1 551.5,763.9 553.0,763.3 554.5,763.0 556.0,764.0 557.5,763.6 559.0,763.2 560.5,763.7 562.0,763.9 563.5,764.6 565.0,764.5 566.5,764.4 568.0,765.7 569.5,765.0 571.0,763.7 572.5,763.2 574.0,763.3 575.5,764.2 577.0,763.9 578.5,764.1 580.0,764.6 581.5,763.8 583.0,762.2 584.5,754.5 586.0,747.9 587.5,738.5 589.0,729.0 590.5,719.7 592.0,708.4 592.5,704.9 593.5,711.7 595.0,720.9 596.5,731.8 598.0,742.3 599.5,750.9 601.0,757.6 602.5,764.5 604.0,766.3 605.5,764.7 607.0,764.4 608.5,764.7 610.0,763.8 611.5,764.7 613.0,764.3 614.5,765.3 616.0,765.3 617.5,764.4 619.0,763.5 620.5,763.1 622.0,764.1 623.5,764.2 625.0,765.0 626.5,765.9 628.0,765.5 629.5,764.4 631.0,763.7 632.5,763.6 634.0,763.0 635.5,763.9 637.0,762.9 638.5,760.2 640.0,757.7 641.5,761.0 643.0,763.3 644.5,764.7 646.0,765.1 647.5,765.5 649.0,764.4 650.5,763.4 652.0,762.5 653.5,760.6 655.0,757.7 656.5,760.0 658.0,764.5 659.5,765.1 661.0,764.8 662.5,765.3 664.0,764.4 665.5,765.8 667.0,766.4 668.5,765.9 670.0,766.7 671.5,765.2 673.0,765.7 674.5,766.3 676.0,766.9 677.5,765.8 679.0,765.6 680.5,765.0 682.0,764.5 683.5,763.9 685.0,763.1 686.5,763.4 688.0,764.7 689.5,764.9 691.0,765.7 692.5,766.6 694.0,766.0 695.5,765.0 697.0,765.8 698.5,766.0 700.0,766.0 701.5,765.0 703.0,764.9 704.5,764.6 706.0,764.1 707.5,763.5 709.0,760.3 710.5,756.6 712.0,755.0 712.5,752.7 713.5,754.8 715.0,759.4 716.5,762.3 718.0,764.2 719.5,763.8 721.0,764.5 722.5,764.5 724.0,763.7 725.5,763.4 727.0,762.9 728.5,763.8 730.0,763.8 731.5,765.0 733.0,764.4 734.5,763.8 736.0,763.9 737.5,762.3 739.0,761.6 740.5,758.3 742.0,755.1 743.5,757.0 745.0,760.0 746.5,761.8 748.0,764.4 749.5,763.5 751.0,763.2 752.5,764.3 754.0,765.6 755.5,765.5 757.0,765.1 758.5,764.3 760.0,764.6 761.5,765.9 763.0,764.7 764.5,765.9 766.0,764.7 767.5,765.6 769.0,765.8 770.5,764.7 772.0,765.7 773.5,766.3 775.0,765.7 776.5,762.0 778.0,757.2 779.5,752.6 780.0,750.3 781.0,754.2 782.5,757.7 784.0,763.2 785.5,765.6 787.0,765.3 788.5,765.7 790.0,764.8 791.5,764.5 793.0,764.6 794.5,763.8 796.0,764.1 797.5,764.9 799.0,765.2 800.5,764.2 802.0,763.5 803.5,764.8 805.0,763.9 806.5,763.1 808.0,763.8 809.5,764.0 811.0,765.1 812.5,765.0 814.0,764.9 815.5,764.6 817.0,766.0 818.5,764.3 820.0,764.5 821.5,764.9 823.0,764.1 824.5,764.3 826.0,764.6 827.5,764.2 829.0,764.2 830.5,760.8 832.0,757.3 833.5,759.5 835.0,761.8 836.5,764.5 838.0,764.7 839.5,765.8 841.0,765.6 842.5,763.9 844.0,760.3 845.5,757.4 846.0,756.9 847.0,760.1 848.5,762.7 850.0,763.9 851.5,765.3 853.0,764.4 854.5,765.8 856.0,766.2 857.5,766.4 859.0,765.3 860.5,765.6 862.0,765.7 863.5,765.1 865.0,766.0 866.5,765.0 868.0,765.9 869.5,763.1 871.0,760.3 872.0,758.3 872.5,758.9 874.0,762.1 875.5,765.0 877.0,765.5 878.5,765.2 880.0,766.0 881.5,766.3 883.0,765.4 884.5,764.8 886.0,764.8 887.5,758.4 889.0,738.7 890.5,716.5 892.0,695.2 893.5,671.4 895.0,647.1 896.5,622.4 898.0,598.9 899.5,574.6 900.5,556.7 901.0,566.2 902.5,590.0 904.0,614.2 905.5,640.2 907.0,664.9 908.5,687.5 910.0,711.0 911.5,733.8 913.0,753.0 914.5,765.1 916.0,764.3 917.5,765.5 919.0,765.5 920.5,764.8 922.0,766.1 923.5,766.4 925.0,765.3 926.5,764.1 928.0,763.2 929.5,764.5 931.0,762.8 932.5,760.1 934.0,758.1 935.0,756.2 935.5,758.1 937.0,761.4 938.5,764.0 940.0,766.3 941.5,766.1 943.0,765.6 944.5,765.1 946.0,766.0 947.5,766.3 949.0,766.5 950.5,765.0 952.0,763.7 953.5,763.1 955.0,763.6 956.5,762.0 958.0,757.2 959.5,753.9 960.0,752.1 961.0,755.3 962.5,758.8 964.0,761.9 965.5,764.5 967.0,764.7 968.5,766.1 970.0,765.1 971.5,764.1 973.0,765.3 974.5,765.2 976.0,764.5 977.5,764.9 979.0,765.7 980.5,766.2 982.0,765.7 983.5,766.6 985.0,764.9" fill="none" stroke="#1d56a8" stroke-width="4.0" stroke-linejoin="round"/>
<polyline points="295.0,711.3 296.5,724.1 298.0,735.7 299.5,746.0 301.0,755.0 302.5,761.7 304.0,766.5 305.5,766.6 307.0,766.0 308.5,766.0 310.0,765.7 311.5,766.5 313.0,766.5 314.5,766.8 316.0,766.7 317.5,766.5 319.0,767.1 320.5,767.2 322.0,767.2 323.5,766.4 325.0,766.1 326.5,766.7 328.0,766.2 329.5,766.8 331.0,766.5 332.5,767.0 334.0,767.4 335.5,766.6 337.0,766.9 338.5,767.1 340.0,766.3 341.5,765.9 343.0,766.4 344.5,765.8 346.0,766.1 347.5,766.0 349.0,766.6 350.5,766.0 352.0,765.9 353.5,765.6 355.0,765.4 356.5,766.1 358.0,766.5 359.5,766.9 361.0,767.2 362.5,767.5 364.0,767.3 365.5,766.9 367.0,767.4 368.5,766.8 370.0,766.9 371.5,767.0 373.0,766.4 374.5,766.4 376.0,766.7 377.5,766.6 379.0,766.3 380.5,767.0 382.0,766.2 383.5,766.9 385.0,766.4 386.5,766.0 388.0,766.2 389.5,762.9 391.0,759.6 392.5,755.6 394.0,752.0 395.0,749.4 395.5,751.0 397.0,754.3 398.5,758.7 400.0,761.8 401.5,764.4 403.0,765.6 404.5,766.1 406.0,766.5 407.5,766.5 409.0,766.1 410.5,766.8 412.0,766.3 413.5,766.0 415.0,765.8 416.5,766.6 418.0,766.0 419.5,766.7 421.0,766.8 422.5,766.6 424.0,766.0 425.5,766.4 427.0,765.9 428.5,766.1 430.0,766.5 431.5,766.7 433.0,767.0 434.5,767.4 436.0,767.5 437.5,766.8 439.0,766.1 440.5,766.7 442.0,767.2 443.5,766.3 445.0,766.3 446.5,766.5 448.0,766.8 449.5,766.6 451.0,766.1 452.5,766.3 454.0,734.5 455.5,695.1 457.0,654.3 458.5,615.0 460.0,574.8 461.5,534.2 463.0,494.8 464.5,454.4 466.0,413.9 467.5,374.0 467.8,365.8 469.0,398.6 470.5,438.6 472.0,479.0 473.5,518.4 475.0,558.7 476.5,598.7 478.0,638.0 479.5,677.7 481.0,717.4 482.5,757.9 484.0,766.2 485.5,766.0 487.0,766.2 488.5,766.6 490.0,766.7 491.5,767.1 493.0,767.0 494.5,766.2 496.0,765.7 497.5,765.9 499.0,766.1 500.5,766.5 502.0,767.0 503.5,767.1 505.0,766.5 506.5,766.0 508.0,766.4 509.5,766.1 511.0,765.9 512.5,765.9 514.0,765.9 515.5,765.8 517.0,766.3 518.5,766.1 520.0,766.5 521.5,766.5 523.0,766.2 524.5,766.1 526.0,766.5 527.5,765.9 529.0,766.0 530.5,766.1 532.0,766.9 533.5,766.7 535.0,766.9 536.5,766.5 538.0,766.6 539.5,766.1 541.0,766.1 542.5,765.9 544.0,766.3 545.5,766.2 547.0,766.0 548.5,765.8 550.0,766.3 551.5,765.9 553.0,765.7 554.5,765.8 556.0,765.5 557.5,765.3 559.0,765.7 560.5,766.0 562.0,766.6 563.5,766.1 565.0,765.7 566.5,766.1 568.0,766.0 569.5,765.9 571.0,765.9 572.5,766.5 574.0,766.2 575.5,766.2 577.0,766.1 578.5,766.4 580.0,766.3 581.5,766.0 583.0,766.0 584.5,765.9 586.0,766.8 587.5,767.1 589.0,766.9 590.5,766.6 592.0,766.9 593.5,766.5 595.0,766.3 596.5,767.0 598.0,766.8 599.5,767.0 601.0,767.4 602.5,767.5 604.0,767.3 605.5,767.4 607.0,767.4 608.5,767.7 610.0,767.2 611.5,767.1 613.0,766.7 614.5,766.5 616.0,766.8 617.5,766.2 619.0,767.0 620.5,766.9 622.0,767.0 623.5,766.9 625.0,767.2 626.5,766.5 628.0,766.7 629.5,767.2 631.0,766.8 632.5,767.2 634.0,766.4 635.5,764.2 637.0,761.1 638.5,757.4 640.0,753.8 641.5,757.5 643.0,760.4 644.5,763.2 646.0,765.9 647.5,766.9 649.0,766.6 650.5,766.5 652.0,765.9 653.5,765.5 655.0,765.8 656.5,766.3 658.0,765.9 659.5,766.8 661.0,767.2 662.5,766.8 664.0,766.5 665.5,767.0 667.0,766.6 668.5,766.1 670.0,766.4 671.5,766.5 673.0,766.9 674.5,767.0 676.0,766.2 677.5,766.5 679.0,765.9 680.5,765.6 682.0,765.8 683.5,766.4 685.0,765.8 686.5,766.1 688.0,766.4 689.5,766.7 691.0,766.0 692.5,766.2 694.0,766.6 695.5,766.6 697.0,767.0 698.5,766.7 700.0,766.7 701.5,766.9 703.0,766.4 704.5,766.0 706.0,766.8 707.5,766.7 709.0,766.9 710.5,766.2 712.0,765.9 713.5,766.5 715.0,766.8 716.5,767.1 718.0,766.2 719.5,766.6 721.0,766.4 722.5,766.5 724.0,766.3 725.5,766.3 727.0,766.0 728.5,766.7 730.0,766.3 731.5,766.6 733.0,766.5 734.5,766.7 736.0,766.9 737.5,766.7 739.0,766.7 740.5,766.8 742.0,766.4 743.5,766.3 745.0,767.0 746.5,767.1 748.0,766.9 749.5,766.2 751.0,765.8 752.5,766.0 754.0,766.8 755.5,766.4 757.0,766.5 758.5,766.4 760.0,766.2 761.5,766.1 763.0,766.3 764.5,765.9 766.0,766.3 767.5,766.5 769.0,766.0 770.5,766.6 772.0,766.8 773.5,766.3 775.0,766.9 776.5,766.3 778.0,766.1 779.5,766.4 781.0,766.7 782.5,766.3 784.0,765.8 785.5,766.6 787.0,766.6 788.5,766.5 790.0,766.5 791.5,766.7 793.0,767.1 794.5,766.7 796.0,766.2 797.5,766.9 799.0,767.1 800.5,765.8 802.0,762.3 803.5,758.3 805.0,754.8 806.5,749.7 807.5,745.8 808.0,747.1 809.5,752.0 811.0,757.4 812.5,761.0 814.0,765.0 815.5,766.4 817.0,765.9 818.5,765.8 820.0,766.6 821.5,766.8 823.0,766.1 824.5,766.7 826.0,766.5 827.5,766.6 829.0,767.0 830.5,766.6 832.0,767.2 833.5,767.4 835.0,767.2 836.5,767.5 838.0,767.6 839.5,767.1 841.0,766.5 842.5,766.0 844.0,766.7 845.5,766.7 847.0,766.9 848.5,766.6 850.0,766.6 851.5,766.0 853.0,766.3 854.5,767.0 856.0,766.5 857.5,767.0 859.0,766.6 860.5,766.6 862.0,766.0 863.5,766.1 865.0,766.1 866.5,766.6 868.0,766.5 869.5,766.8 871.0,766.4 872.5,766.4 874.0,766.9 875.5,767.1 877.0,767.0 878.5,766.5 880.0,766.9 881.5,766.5 883.0,766.3 884.5,766.9 886.0,766.5 887.5,764.0 889.0,757.8 890.5,749.8 892.0,741.7 893.5,732.0 895.0,722.7 896.5,713.1 898.0,702.4 899.5,692.5 900.0,688.5 901.0,696.2 902.5,706.9 904.0,716.1 905.5,725.6 907.0,735.4 908.5,744.6 910.0,751.8 911.5,759.0 913.0,764.6 914.5,766.6 916.0,766.4 917.5,766.6 919.0,766.9 920.5,767.0 922.0,766.6 923.5,766.8 925.0,766.8 926.5,767.2 928.0,766.5 929.5,766.3 931.0,766.0 932.5,766.3 934.0,765.9 935.5,766.1 937.0,766.2 938.5,766.2 940.0,766.0 941.5,766.3 943.0,766.9 944.5,767.4 946.0,767.4 947.5,767.6 949.0,766.7 950.5,766.6 952.0,766.2 953.5,767.0 955.0,766.8 956.5,766.2 958.0,766.2 959.5,766.4 961.0,766.5 962.5,767.0 964.0,767.2 965.5,767.4 967.0,767.2 968.5,767.1 970.0,766.3 971.5,766.9 973.0,767.0 974.5,767.1 976.0,767.3 977.5,767.2 979.0,767.3 980.5,767.0 982.0,767.4 983.5,766.5 985.0,766.7" fill="none" stroke="#e8192c" stroke-width="4.9" stroke-linejoin="round"/>
<line x1="295.0" y1="346.0" x2="295.0" y2="768.3" stroke="#262626" stroke-width="1.7"/>
<line x1="294.2" y1="767.6" x2="986.0" y2="767.6" stroke="#262626" stroke-width="1.5" opacity="0.8"/>
<line x1="295.0" y1="367.5" x2="300.5" y2="367.5" stroke="#262626" stroke-width="1.3"/>
<line x1="295.0" y1="447.5" x2="300.5" y2="447.5" stroke="#262626" stroke-width="1.3"/>
<line x1="295.0" y1="527.5" x2="300.5" y2="527.5" stroke="#262626" stroke-width="1.3"/>
<line x1="295.0" y1="607.5" x2="300.5" y2="607.5" stroke="#262626" stroke-width="1.3"/>
<line x1="295.0" y1="687.5" x2="300.5" y2="687.5" stroke="#262626" stroke-width="1.3"/>
</g>
<defs><clipPath id="dclip"><rect x="1229" y="324" width="552" height="470"/></clipPath></defs>
<g id="chartd">
<rect x="1230.0" y="325.6" width="550.5999999999999" height="468.19999999999993" fill="none" stroke="#d6d6d6" stroke-width="1.5"/>
<line x1="1321.8" y1="325.6" x2="1321.8" y2="331.1" stroke="#adadad" stroke-width="1.2"/>
<line x1="1321.8" y1="793.8" x2="1321.8" y2="788.3" stroke="#adadad" stroke-width="1.2"/>
<line x1="1413.5" y1="325.6" x2="1413.5" y2="331.1" stroke="#adadad" stroke-width="1.2"/>
<line x1="1413.5" y1="793.8" x2="1413.5" y2="788.3" stroke="#adadad" stroke-width="1.2"/>
<line x1="1505.3" y1="325.6" x2="1505.3" y2="331.1" stroke="#adadad" stroke-width="1.2"/>
<line x1="1505.3" y1="793.8" x2="1505.3" y2="788.3" stroke="#adadad" stroke-width="1.2"/>
<line x1="1597.1" y1="325.6" x2="1597.1" y2="331.1" stroke="#adadad" stroke-width="1.2"/>
<line x1="1597.1" y1="793.8" x2="1597.1" y2="788.3" stroke="#adadad" stroke-width="1.2"/>
<line x1="1688.8" y1="325.6" x2="1688.8" y2="331.1" stroke="#adadad" stroke-width="1.2"/>
<line x1="1688.8" y1="793.8" x2="1688.8" y2="788.3" stroke="#adadad" stroke-width="1.2"/>
<line x1="1230.0" y1="793.8" x2="1235.5" y2="793.8" stroke="#adadad" stroke-width="1.2"/>
<line x1="1780.6" y1="793.8" x2="1775.1" y2="793.8" stroke="#adadad" stroke-width="1.2"/>
<line x1="1230.0" y1="700.0" x2="1235.5" y2="700.0" stroke="#adadad" stroke-width="1.2"/>
<line x1="1780.6" y1="700.0" x2="1775.1" y2="700.0" stroke="#adadad" stroke-width="1.2"/>
<line x1="1230.0" y1="606.3" x2="1235.5" y2="606.3" stroke="#adadad" stroke-width="1.2"/>
<line x1="1780.6" y1="606.3" x2="1775.1" y2="606.3" stroke="#adadad" stroke-width="1.2"/>
<line x1="1230.0" y1="512.5" x2="1235.5" y2="512.5" stroke="#adadad" stroke-width="1.2"/>
<line x1="1780.6" y1="512.5" x2="1775.1" y2="512.5" stroke="#adadad" stroke-width="1.2"/>
<line x1="1230.0" y1="418.8" x2="1235.5" y2="418.8" stroke="#adadad" stroke-width="1.2"/>
<line x1="1780.6" y1="418.8" x2="1775.1" y2="418.8" stroke="#adadad" stroke-width="1.2"/>
<line x1="1230.0" y1="325.0" x2="1235.5" y2="325.0" stroke="#adadad" stroke-width="1.2"/>
<line x1="1780.6" y1="325.0" x2="1775.1" y2="325.0" stroke="#adadad" stroke-width="1.2"/>
<text transform="translate(1212.51,334.00) scale(0.7099,1.0000)" font-size="24.29" fill="#383838" stroke="#383838" stroke-width="0.45" stroke-linejoin="round">1</text>
<text transform="translate(1189.01,426.55) scale(1.1132,1.0000)" font-size="22.29" fill="#383838" stroke="#383838" stroke-width="0.45" stroke-linejoin="round">0.8</text>
<text transform="translate(1189.01,520.30) scale(1.1132,1.0000)" font-size="22.29" fill="#383838" stroke="#383838" stroke-width="0.45" stroke-linejoin="round">0.6</text>
<text transform="translate(1189.02,614.05) scale(1.1048,1.0000)" font-size="22.29" fill="#383838" stroke="#383838" stroke-width="0.45" stroke-linejoin="round">0.4</text>
<text transform="translate(1189.00,707.80) scale(1.1218,1.0000)" font-size="22.29" fill="#383838" stroke="#383838" stroke-width="0.45" stroke-linejoin="round">0.2</text>
<text transform="translate(1210.04,800.50) scale(1.0751,1.0000)" font-size="22.29" fill="#383838" stroke="#383838" stroke-width="0.45" stroke-linejoin="round">0</text>
<text transform="translate(1201.39,820.00) scale(1.0824,1.0000)" font-size="22.86" fill="#383838" stroke="#383838" stroke-width="0.45" stroke-linejoin="round">-300</text>
<text transform="translate(1292.69,820.00) scale(1.0801,1.0000)" font-size="22.86" fill="#383838" stroke="#383838" stroke-width="0.45" stroke-linejoin="round">-200</text>
<text transform="translate(1385.08,820.00) scale(1.0846,1.0000)" font-size="22.86" fill="#383838" stroke="#383838" stroke-width="0.45" stroke-linejoin="round">-100</text>
<text transform="translate(1498.00,820.00) scale(1.0937,1.0000)" font-size="22.86" fill="#383838" stroke="#383838" stroke-width="0.45" stroke-linejoin="round">0</text>
<text transform="translate(1577.81,820.00) scale(0.9847,1.0000)" font-size="22.86" fill="#383838" stroke="#383838" stroke-width="0.45" stroke-linejoin="round">100</text>
<text transform="translate(1668.35,820.00) scale(1.0051,1.0000)" font-size="22.86" fill="#383838" stroke="#383838" stroke-width="0.45" stroke-linejoin="round">200</text>
<text transform="translate(1761.02,820.00) scale(1.0731,1.0000)" font-size="22.86" fill="#383838" stroke="#383838" stroke-width="0.45" stroke-linejoin="round">300</text>
<text transform="translate(1469.77,847.50) scale(1.0875,1.0000)" font-size="21.50" fill="#383838" stroke="#383838" stroke-width="0.45" stroke-linejoin="round">x (µm)</text>
<text transform="translate(1177.30,701.27) rotate(-90) scale(1.0728,1.0000)" font-size="23.00" fill="#383838" stroke="#383838" stroke-width="0.45" stroke-linejoin="round">Normalized Intensity (a.u.)</text>
<g clip-path="url(#dclip)">
<polyline points="1230.0,778.8 1233.8,781.2 1240.0,785.0 1247.5,787.0 1255.0,783.8 1260.0,785.0 1266.2,786.2 1271.2,777.5 1276.2,766.2 1280.0,762.0 1283.8,772.5 1287.5,780.0 1291.2,757.5 1295.0,738.8 1298.0,737.5 1301.2,750.0 1305.0,771.2 1308.0,770.0 1311.2,750.0 1314.5,737.5 1317.0,738.8 1320.5,757.5 1324.5,777.5 1328.0,785.0 1331.2,775.0 1335.0,765.0 1338.8,762.5 1342.5,765.0 1347.0,777.5 1350.5,783.8 1353.8,777.5 1358.8,766.2 1361.2,765.0 1366.2,777.5 1370.0,780.0 1373.8,775.0 1377.5,762.5 1381.2,755.0 1384.5,752.5 1387.5,767.5 1391.2,781.2 1393.8,780.0 1397.0,762.5 1400.0,726.1 1404.5,721.6 1409.0,744.1 1415.0,763.6 1419.5,762.1 1424.0,738.1 1428.5,702.1 1433.0,681.1 1437.5,678.1 1442.0,696.1 1448.0,714.1 1452.5,718.6 1457.0,708.1 1461.5,684.1 1466.0,654.0 1470.5,643.5 1475.0,646.5 1479.5,652.5 1484.0,630.0 1487.0,600.0 1490.0,570.0 1493.0,540.0 1494.5,508.9 1495.9,480.8 1497.4,453.6 1498.8,427.2 1500.3,401.1 1501.7,375.5 1503.2,350.1 1504.6,325.0 1506.3,348.2 1508.1,373.8 1509.8,400.3 1511.6,427.4 1513.3,455.0 1515.1,483.0 1516.8,511.4 1518.5,540.0 1520.0,585.0 1523.0,630.0 1526.1,660.0 1530.6,669.1 1535.1,657.0 1538.1,652.5 1542.6,657.0 1547.1,681.1 1551.6,699.1 1556.1,711.1 1560.6,699.1 1566.6,696.1 1572.6,694.6 1577.1,708.1 1581.6,738.1 1586.1,768.1 1590.6,777.1 1595.1,756.1 1599.6,723.1 1604.1,717.1 1608.6,732.1 1611.6,762.1 1616.1,780.1 1620.6,783.1 1626.0,768.1 1627.0,755.0 1630.8,762.5 1634.5,772.5 1638.2,775.0 1642.0,770.0 1645.8,772.5 1648.2,785.0 1652.0,782.5 1655.8,777.5 1659.5,782.5 1663.2,777.5 1667.0,767.5 1669.5,765.0 1673.2,775.0 1677.0,782.5 1680.8,786.2 1684.5,775.0 1688.2,760.0 1692.0,755.0 1694.5,762.5 1698.2,780.0 1702.0,785.0 1705.8,775.0 1709.5,757.5 1713.2,755.0 1717.0,770.0 1720.8,782.5 1724.5,775.0 1728.2,760.0 1732.0,760.0 1735.8,772.5 1739.5,782.5 1743.2,785.0 1747.0,780.0 1750.8,777.5 1754.5,782.5 1759.5,790.0 1763.2,790.0 1767.0,782.5 1770.8,780.0 1774.5,785.0 1779.5,790.0" fill="none" stroke="#2a2ef2" stroke-width="3.5" stroke-linejoin="round"/>
<polyline points="1230.0,747.5 1235.0,750.0 1242.5,752.5 1250.0,751.2 1257.5,742.5 1263.8,732.5 1268.8,726.2 1273.8,732.5 1277.5,745.0 1280.0,755.0 1285.0,745.0 1290.0,737.5 1295.0,740.0 1302.5,750.0 1310.0,746.2 1317.5,745.0 1325.0,742.5 1330.0,737.5 1335.0,730.0 1338.8,737.5 1342.5,747.5 1350.0,750.0 1357.5,748.8 1365.0,750.0 1372.5,751.2 1380.0,748.8 1387.5,745.0 1392.5,743.8 1397.5,748.8 1400.0,750.1 1406.0,753.1 1412.0,744.1 1418.0,732.1 1424.0,711.1 1430.0,696.1 1436.0,693.1 1442.0,711.1 1448.0,729.1 1454.0,741.1 1460.0,732.1 1466.0,717.1 1472.0,696.1 1478.0,672.1 1482.5,651.0 1485.5,615.0 1488.5,585.0 1491.5,540.0 1493.4,508.9 1495.2,480.8 1497.0,453.6 1498.9,427.2 1500.7,401.1 1502.5,375.5 1504.4,350.1 1506.2,325.0 1507.9,348.2 1509.7,373.8 1511.4,400.3 1513.1,427.4 1514.9,455.0 1516.6,483.0 1518.3,511.4 1520.0,540.0 1523.0,585.0 1526.1,630.0 1529.1,660.0 1533.6,675.1 1538.1,690.1 1544.1,708.1 1550.1,726.1 1556.1,738.1 1562.1,744.1 1566.6,726.1 1571.1,702.1 1575.6,694.6 1580.1,699.1 1586.1,711.1 1592.1,723.1 1598.1,735.1 1604.1,747.1 1610.1,756.1 1616.1,753.1 1626.0,747.1 1629.5,745.0 1637.0,750.0 1644.5,745.0 1652.0,743.8 1659.5,748.8 1667.0,750.0 1674.5,747.5 1679.5,742.5 1684.5,737.5 1692.0,737.5 1697.0,745.0 1704.5,747.5 1712.0,745.0 1717.0,737.5 1722.0,735.0 1727.0,737.5 1732.0,742.5 1737.0,740.0 1742.0,730.0 1748.2,725.0 1753.2,732.5 1759.5,742.5 1767.0,746.2 1773.2,745.0 1779.5,746.2" fill="none" stroke="#7ed63c" stroke-width="3.4" stroke-linejoin="round" stroke-dasharray="2.8 2.4"/>
<polyline points="1230.0,772.5 1232.5,760.0 1237.5,755.0 1245.0,753.8 1252.5,760.0 1258.8,762.5 1265.0,757.5 1270.0,742.5 1273.8,732.5 1277.5,733.8 1281.2,737.5 1285.0,750.0 1288.8,765.0 1292.5,777.5 1297.5,785.0 1302.5,775.0 1307.5,772.5 1315.0,775.0 1322.5,776.2 1330.0,772.5 1337.5,775.0 1342.5,770.0 1347.5,755.0 1352.5,752.5 1357.5,755.0 1362.5,767.5 1367.5,777.5 1373.8,773.8 1380.0,770.0 1385.0,760.0 1390.0,750.0 1395.0,752.5 1398.8,760.0 1400.0,765.1 1406.0,780.1 1413.5,786.1 1421.0,777.1 1428.5,769.6 1436.0,774.1 1442.0,780.1 1448.0,762.1 1454.0,744.1 1460.0,735.1 1464.5,720.1 1469.0,684.1 1472.0,645.0 1476.5,600.0 1481.0,579.0 1485.5,573.0 1488.5,570.0 1491.5,540.0 1493.2,508.9 1494.9,480.8 1496.6,453.6 1498.3,427.2 1500.0,401.1 1501.6,375.5 1503.3,350.1 1505.0,325.0 1506.7,348.2 1508.4,373.8 1510.1,400.3 1511.8,427.4 1513.5,455.0 1515.2,483.0 1516.9,511.4 1518.5,540.0 1521.5,600.0 1524.5,606.0 1527.6,594.0 1530.6,588.0 1535.1,597.0 1538.1,624.0 1541.1,654.0 1544.1,675.1 1550.1,702.1 1556.1,726.1 1562.1,750.1 1568.1,765.1 1574.1,774.1 1583.1,777.1 1592.1,778.6 1599.6,780.1 1607.1,774.1 1613.1,753.1 1619.1,747.1 1626.0,744.1 1629.5,750.0 1634.5,760.0 1639.5,767.5 1644.5,760.0 1649.5,745.0 1653.2,737.5 1657.0,745.0 1662.0,757.5 1667.0,767.5 1672.0,772.5 1677.0,765.0 1682.0,760.0 1687.0,765.0 1692.0,775.0 1697.0,782.5 1702.0,777.5 1707.0,772.5 1712.0,773.8 1717.0,765.0 1722.0,747.5 1727.0,736.2 1732.0,735.0 1737.0,740.0 1742.0,752.5 1747.0,760.0 1752.0,762.5 1757.0,767.5 1762.0,762.5 1767.0,752.5 1772.0,750.0 1777.0,760.0 1779.5,767.5" fill="none" stroke="#e2361c" stroke-width="3.5" stroke-linejoin="round" stroke-dasharray="7.5 3"/>
</g>
<line x1="1594.5" y1="371.8" x2="1650.8" y2="371.8" stroke="#2a2ef2" stroke-width="3.3"/>
<line x1="1594.5" y1="403.0" x2="1650.8" y2="403.0" stroke="#7ed63c" stroke-width="3.2" stroke-dasharray="2.8 2.4"/>
<line x1="1594.5" y1="434.3" x2="1650.8" y2="434.3" stroke="#e2361c" stroke-width="3.3" stroke-dasharray="7.5 3"/>
<text transform="translate(1656.17,381.20) scale(0.9860,1.0000)" font-size="24.71" fill="#2e2e2e" stroke="#2e2e2e" stroke-width="0.45" stroke-linejoin="round">1300 nm</text>
<text transform="translate(1656.17,412.40) scale(0.9860,1.0000)" font-size="24.71" fill="#2e2e2e" stroke="#2e2e2e" stroke-width="0.45" stroke-linejoin="round">1550 nm</text>
<text transform="translate(1656.17,443.50) scale(0.9860,1.0000)" font-size="24.71" fill="#2e2e2e" stroke="#2e2e2e" stroke-width="0.45" stroke-linejoin="round">1800 nm</text>
</g>
</svg>
</body>
</html>
